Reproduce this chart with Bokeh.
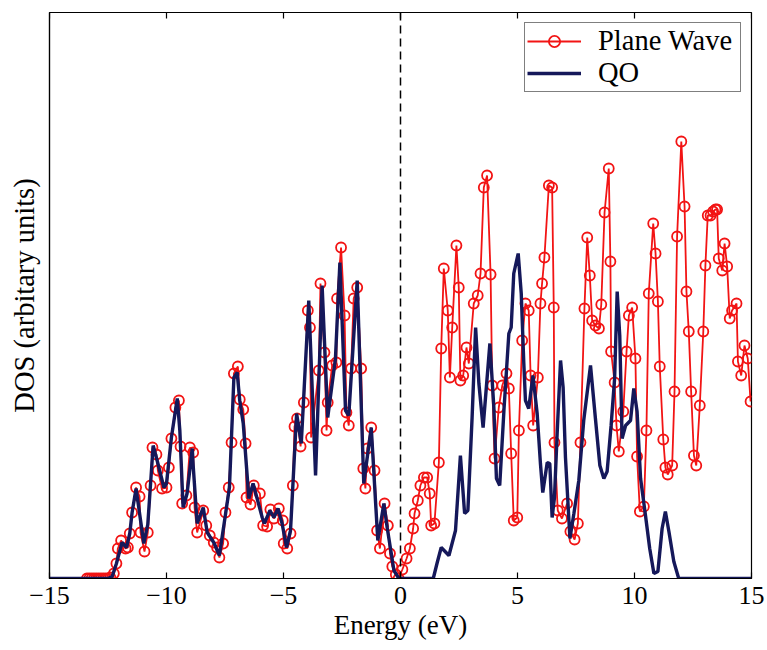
from bokeh.plotting import figure
from bokeh.models import (ColumnDataSource, Range1d, FixedTicker, Span,
                          Legend, LegendItem, CustomJSTickFormatter)
from bokeh.embed import file_html
from bokeh.resources import INLINE

# ---------------- data ----------------
pw_energy = [-13.4, -13.3, -13.2, -13.1, -13.0, -12.9, -12.8, -12.7, -12.6, -12.5, -12.4,
             -12.25, -12.14, -12.08, -11.94, -11.75, -11.65, -11.57, -11.47, -11.30, -11.15,
             -11.11, -10.94, -10.80, -10.68, -10.60, -10.43, -10.37, -10.19, -10.00, -9.90,
             -9.79, -9.62, -9.47, -9.40, -9.33, -9.15, -9.00, -8.86, -8.80, -8.69,
             -8.43, -8.30, -8.15, -7.98, -7.84, -7.74, -7.58, -7.48, -7.34, -7.22,
             -7.12, -6.95, -6.87, -6.72, -6.62, -6.58, -6.41, -6.27, -6.01, -5.87,
             -5.70, -5.56, -5.41, -5.20, -5.03, -4.99, -4.84, -4.70, -4.60, -4.53,
             -4.42, -4.27, -4.13, -3.96, -3.87, -3.82, -3.49, -3.42, -3.25, -3.16,
             -3.11, -2.92, -2.74, -2.71, -2.54, -2.39, -2.31, -2.21, -2.11, -2.00,
             -1.85, -1.68, -1.59, -1.50, -1.42, -1.25, -1.11, -1.00, -0.88, -0.68,
             -0.54, -0.45, -0.35, -0.20, -0.08, 0.08, 0.26, 0.40, 0.54, 0.60,
             0.74, 0.85, 1.00, 1.14, 1.25, 1.31, 1.45, 1.64, 1.74, 1.85,
             2.02, 2.11, 2.21, 2.39, 2.49, 2.56, 2.68, 2.82, 2.92, 3.13,
             3.30, 3.42, 3.56, 3.70, 3.85, 3.92, 4.02, 4.20, 4.35, 4.53,
             4.63, 4.73, 4.84, 4.99, 5.06, 5.20, 5.34, 5.48, 5.56, 5.67,
             5.87, 5.98, 6.05, 6.15, 6.34, 6.48, 6.55, 6.58, 6.72, 6.90,
             7.12, 7.26, 7.44, 7.58, 7.69, 7.86, 7.98, 8.09, 8.19, 8.33,
             8.48, 8.58, 8.72, 8.90, 8.97, 9.00, 9.15, 9.23, 9.33, 9.52,
             9.66, 9.76, 9.90, 10.04, 10.11, 10.23, 10.40, 10.51, 10.61, 10.80,
             10.90, 11.00, 11.08, 11.23, 11.32, 11.42, 11.61, 11.71, 11.82, 12.00,
             12.14, 12.22, 12.32, 12.42, 12.54, 12.64, 12.79, 12.94, 13.03, 13.13,
             13.25, 13.36, 13.46, 13.53, 13.60, 13.75, 13.85, 13.96, 14.07, 14.17,
             14.36, 14.42, 14.56, 14.70, 14.84, 14.96]
pw_dos = [0.0, 0.0, 0.0, 0.0, 0.0, 0.0, 0.0, 0.0, 0.0, 0.0, 0.01,
          0.05, 0.15, 0.30, 0.38, 0.30, 0.31, 0.45, 0.66, 0.91, 0.82,
          0.46, 0.27, 0.46, 0.93, 1.31, 1.24, 1.08, 0.90, 0.91, 1.11,
          1.40, 1.71, 1.78, 1.32, 0.75, 0.83, 1.31, 1.26, 0.71, 0.46,
          0.68, 0.53, 0.43, 0.36, 0.31, 0.21, 0.35, 0.66, 0.91, 1.36,
          2.05, 2.12, 1.79, 1.69, 1.35, 0.81, 0.74, 0.93, 0.85, 0.53,
          0.52, 0.69, 0.60, 0.70, 0.58, 0.35, 0.30, 0.45, 0.93, 1.52,
          1.60, 1.32, 1.76, 2.68, 2.51, 1.41, 2.08, 2.95, 2.26, 1.48,
          1.76, 2.13, 2.16, 2.80, 3.31, 2.63, 1.66, 1.53, 2.10, 2.80,
          2.91, 2.10, 1.10, 0.90, 1.30, 1.51, 1.08, 0.48, 0.30, 0.75,
          0.53, 0.25, 0.12, 0.04, 0.0, 0.09, 0.20, 0.30, 0.50, 0.65,
          0.78, 0.93, 1.01, 1.01, 0.85, 0.53, 0.55, 1.16, 2.30, 3.10,
          2.68, 2.01, 2.51, 3.33, 2.91, 1.98, 2.03, 2.31, 2.15, 2.75,
          2.83, 3.05, 3.91, 4.03, 3.04, 1.93, 1.20, 1.71, 1.93, 2.05,
          1.90, 1.25, 0.58, 0.61, 1.48, 2.38, 2.75, 2.68, 2.03, 1.53,
          2.01, 2.75, 2.95, 3.21, 3.93, 3.91, 2.71, 1.36, 0.68, 0.60,
          0.75, 0.47, 0.39, 0.55, 1.36, 2.70, 3.41, 3.03, 2.58, 2.53,
          2.50, 2.74, 3.66, 4.10, 3.17, 2.27, 1.96, 1.53, 1.27, 1.67,
          2.27, 2.63, 2.71, 2.20, 1.22, 0.67, 0.72, 1.48, 2.85, 3.55,
          3.25, 2.77, 2.12, 1.39, 1.11, 1.04, 1.13, 1.87, 3.42, 4.37,
          3.72, 2.87, 2.47, 1.87, 1.23, 1.13, 1.73, 2.47, 3.13, 3.63,
          3.63, 3.67, 3.69, 3.69, 3.20, 3.08, 3.35, 3.12, 2.60, 2.68,
          2.75, 2.17, 2.03, 2.33, 2.20, 1.77]

qo_energy = [-15.0, -12.5, -12.32, -12.14, -11.90, -11.71, -11.57, -11.47, -11.30, -10.97,
             -10.80, -10.57, -10.40, -10.11, -10.00, -9.79, -9.54, -9.43, -9.29, -9.12,
             -8.90, -8.86, -8.69, -8.43, -8.26, -7.98, -7.74, -7.48, -7.31, -7.12,
             -6.98, -6.87, -6.72, -6.48, -6.30, -5.91, -5.82, -5.58, -5.41, -5.24,
             -5.06, -4.87, -4.70, -4.44, -4.24, -3.92, -3.63, -3.35, -3.11, -2.78,
             -2.59, -2.35, -2.21, -1.85, -1.57, -1.25, -0.97, -0.71, -0.57, -0.28,
             -0.07, 1.40, 1.57, 1.74, 2.07, 2.35, 2.56, 2.74, 2.88, 3.06,
             3.21, 3.35, 3.53, 3.82, 3.99, 4.10, 4.24, 4.42, 4.63, 4.73,
             4.84, 5.03, 5.16, 5.27, 5.34, 5.48, 5.66, 5.84, 5.98, 6.08,
             6.27, 6.38, 6.48, 6.58, 6.70, 6.84, 6.95, 7.05, 7.24, 7.41,
             7.62, 7.83, 8.12, 8.33, 8.52, 8.69, 8.83, 9.00, 9.15, 9.26,
             9.37, 9.47, 9.62, 9.83, 9.97, 10.11, 10.26, 10.47, 10.65, 10.83,
             11.00, 11.18, 11.32, 11.47, 11.68, 11.89, 15.0]
qo_dos = [0.0, 0.0, 0.02, 0.15, 0.36, 0.31, 0.45, 0.66, 0.90, 0.35,
          0.54, 1.33, 1.18, 0.91, 0.95, 1.41, 1.80, 1.48, 0.71, 0.85,
          1.30, 1.13, 0.55, 0.71, 0.46, 0.36, 0.23, 0.64, 0.91, 2.01,
          2.06, 1.78, 1.55, 0.80, 0.95, 0.61, 0.55, 0.68, 0.61, 0.70,
          0.55, 0.31, 0.48, 1.65, 1.35, 2.78, 1.03, 2.93, 1.61, 2.20,
          3.16, 1.68, 1.63, 2.98, 0.95, 1.51, 0.38, 0.75, 0.51, 0.08,
          0.0, 0.0, 0.16, 0.31, 0.23, 0.48, 1.23, 0.65, 0.68, 1.61,
          2.51, 1.95, 1.51, 2.35, 1.71, 1.00, 0.93, 1.68, 2.45, 2.51,
          3.05, 3.25, 2.85, 2.15, 1.78, 1.70, 2.03, 1.65, 1.15, 0.86,
          1.16, 1.15, 0.61, 0.81, 1.48, 2.18, 1.91, 1.21, 0.40, 0.65,
          0.98, 1.58, 2.13, 1.60, 1.13, 1.00, 1.07, 1.53, 2.00, 2.87,
          2.43, 1.40, 1.53, 1.58, 1.90, 1.67, 1.00, 0.63, 0.30, 0.05,
          0.07, 0.50, 0.67, 0.47, 0.17, 0.0, 0.0]

x_ticks = [-15, -10, -5, 0, 5, 10, 15]
fermi_level = 0.0
series_names = ["Plane Wave", "QO"]

# ---------------- figure ----------------
FONT = "Liberation Serif"
Y_TOP = 5.66
p = figure(width=767, height=650, output_backend="svg", toolbar_location=None,
           x_range=Range1d(-15, 15), y_range=Range1d(0, Y_TOP),
           min_border_left=49, min_border_right=16, min_border_top=12, min_border_bottom=72)
p.background_fill_color = "white"
p.border_fill_color = "white"
p.xgrid.visible = False
p.ygrid.visible = False
p.outline_line_color = "black"
p.outline_line_width = 1.2

pw_src = ColumnDataSource(dict(x=pw_energy, y=pw_dos))
qo_src = ColumnDataSource(dict(x=qo_energy, y=qo_dos))

RED = "#f21414"
pw_line = p.line("x", "y", source=pw_src, line_color=RED, line_width=1.8)
pw_pts = p.scatter("x", "y", source=pw_src, marker="circle", size=10, fill_color=None,
                   line_color=RED, line_width=1.8)
qo_line = p.line("x", "y", source=qo_src, line_color="#15185a", line_width=3.4)

p.add_layout(Span(location=fermi_level, dimension="height", line_color="black",
                  line_width=1.5, line_dash="8 5"))

# inward ticks along the top edge of the box (MATLAB style)
tick_len = 6 * Y_TOP / 566
p.segment(x0=x_ticks, x1=x_ticks, y0=[Y_TOP] * len(x_ticks),
          y1=[Y_TOP - tick_len] * len(x_ticks), line_color="black", line_width=1.2)

fmt = CustomJSTickFormatter(code="return tick < 0 ? '\\u2212' + Math.abs(tick) : String(tick);")

xa = p.xaxis[0]
xa.ticker = FixedTicker(ticks=x_ticks)
xa.formatter = fmt
xa.major_tick_in = 6
xa.major_tick_out = 0
xa.major_tick_line_width = 1.2
xa.minor_tick_line_color = None
xa.major_label_standoff = 8
xa.major_label_text_font = FONT
xa.major_label_text_font_size = "26px"
xa.major_label_text_color = "black"
xa.axis_label = "Energy (eV)"
xa.axis_label_text_font = FONT
xa.axis_label_text_font_size = "27px"
xa.axis_label_text_font_style = "normal"
xa.axis_label_text_color = "black"
xa.axis_label_standoff = 3
xa.axis_line_color = "black"
xa.axis_line_width = 1.2

ya = p.yaxis[0]
ya.ticker = FixedTicker(ticks=[])
ya.minor_tick_line_color = None
ya.major_tick_line_color = None
ya.axis_label = "DOS (arbitary units)"
ya.axis_label_text_font = FONT
ya.axis_label_text_font_size = "28.5px"
ya.axis_label_text_font_style = "normal"
ya.axis_label_text_color = "black"
ya.axis_label_standoff = 10
ya.axis_line_color = "black"
ya.axis_line_width = 1.2

legend = Legend(items=[LegendItem(label=series_names[0], renderers=[pw_line, pw_pts]),
                       LegendItem(label=series_names[1], renderers=[qo_line])],
                location=(475, 486), padding=2, spacing=0,
                label_height=28, glyph_height=28, glyph_width=54, label_standoff=17,
                label_width=140,
                label_text_font=FONT, label_text_font_size="28.5px",
                label_text_color="black",
                border_line_color="black", border_line_width=1.2,
                background_fill_color="white", background_fill_alpha=1.0,
                margin=0)
p.add_layout(legend)

open("out.html", "w").write(file_html(p, INLINE))
